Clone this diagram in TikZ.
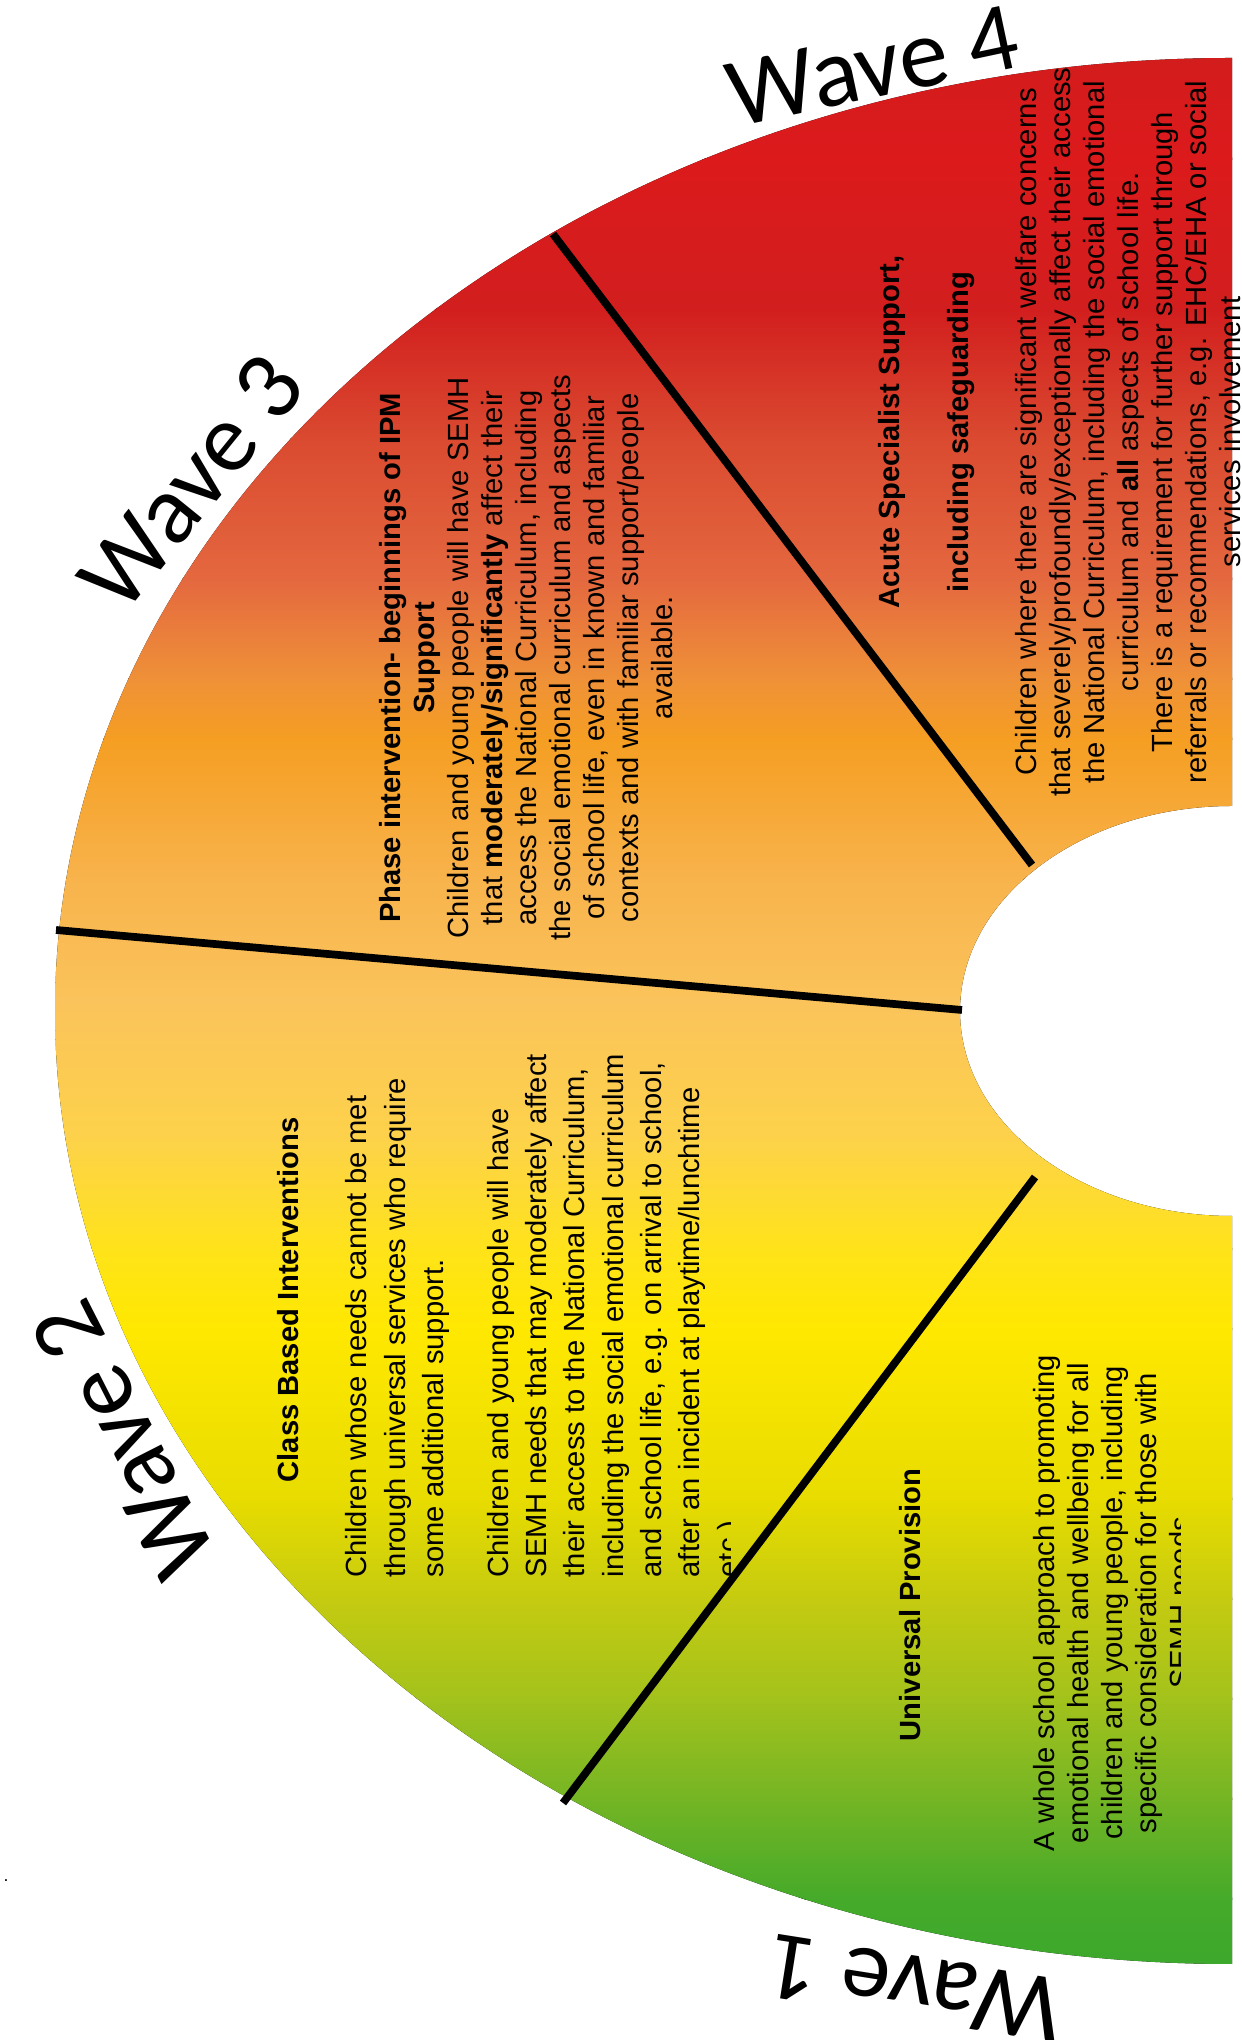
\documentclass[tikz,border=0pt]{standalone}
\usepackage{fontspec}
\setmainfont{Liberation Sans}
\newfontfamily\wavefont{Carlito}

% colours of the fan, from the bottom (green) to the top (red)
\definecolor{fan0}{HTML}{3BA82C}
\definecolor{fan1}{HTML}{45AA2A}
\definecolor{fan2}{HTML}{74B524}
\definecolor{fan3}{HTML}{A3C21C}
\definecolor{fan4}{HTML}{C5CB10}
\definecolor{fan5}{HTML}{E8DC00}
\definecolor{fan6}{HTML}{FFE800}
\definecolor{fan7}{HTML}{FFE31A}
\definecolor{fan8}{HTML}{FDD24A}
\definecolor{fan9}{HTML}{FBC35B}
\definecolor{fan10}{HTML}{F8B34C}
\definecolor{fan11}{HTML}{F59E22}
\definecolor{fan12}{HTML}{EF9138}
\definecolor{fan13}{HTML}{E4683F}
\definecolor{fan14}{HTML}{DA4A30}
\definecolor{fan15}{HTML}{D21E1E}
\definecolor{fan16}{HTML}{DC1A1C}
\definecolor{fan17}{HTML}{D21C1C}

\begin{document}
\begin{tikzpicture}[x=1cm,y=1cm,
    txt/.style={rotate=90, inner sep=0pt, align=center, font=\fontsize{8.3}{9.7}\selectfont},
    head/.style={txt, font=\bfseries\fontsize{8.3}{9.7}\selectfont},
    wave/.style={inner sep=0pt, font=\wavefont\fontsize{28}{30}\selectfont},
    divider/.style={line width=2.2pt}]
\useasboundingbox (0,0) rectangle (12.42,20.40);

% the half ring
\begin{scope}
\clip (12.32,19.82) arc[start angle=90, end angle=270, x radius=11.77, y radius=9.53]
    -- (12.32,8.24) arc[start angle=270, end angle=90, x radius=2.72, y radius=2.05] -- cycle;
\foreach \ylo/\yhi/\clo/\chi in {0.7/1.4/fan0/fan1, 1.4/2.4/fan1/fan2, 2.4/3.4/fan2/fan3,
    3.4/4.4/fan3/fan4, 4.4/5.4/fan4/fan5, 5.4/7.1/fan5/fan6, 7.1/7.9/fan6/fan7,
    7.9/9.0/fan7/fan8, 9.0/10.4/fan8/fan9, 10.4/11.6/fan9/fan10, 11.6/13.0/fan10/fan11,
    13.0/13.6/fan11/fan12, 13.6/14.6/fan12/fan13, 14.6/16.0/fan13/fan14,
    16.0/17.3/fan14/fan15, 17.3/18.8/fan15/fan16, 18.8/19.9/fan16/fan17}{
    \fill[bottom color=\clo, top color=\chi] (0,\ylo) rectangle (12.42,\yhi+0.02);
}
\end{scope}

% dividers between the waves
\coordinate (rim23) at (0.56,11.10);
\coordinate (hub23) at (9.62,10.30);
\coordinate (rim34) at (5.53,18.06);
\coordinate (hub34) at (10.32,11.75);
\coordinate (rim12) at (5.63,2.37);
\coordinate (hub12) at (10.35,8.63);
\draw[divider] (rim23) -- (hub23);
\draw[divider] (rim34) -- (hub34);
\draw[divider] (rim12) -- (hub12);

% wave 4
\node[txt] (acute) at (10.60,16.08) {\textbf{Acute Specialist Support,}\\[9.7pt]
    \textbf{including safeguarding}\\[9.7pt]
    Children where there are significant welfare concerns\\
    that severely/profoundly/exceptionally affect their access\\
    the National Curriculum, including the social emotional\\
    curriculum and \textbf{all} aspects of school life.\\
    There is a requirement for further support through\\
    referrals or recommendations, e.g. EHC/EHA or social\\
    services involvement};

% wave 3
\node[txt] (phase) at (5.26,13.82) {\textbf{Phase intervention- beginnings of IPM}\\
    \textbf{Support}\\
    Children and young people will have SEMH\\
    that \textbf{moderately/significantly} affect their\\
    access the National Curriculum, including\\
    the social emotional curriculum and aspects\\
    of school life, even in known and familiar\\
    contexts and with familiar support/people\\
    available.};

% wave 2
\node[head] (classhead) at (2.88,7.40) {Class Based Interventions};
\begin{scope}
\clip (0,0) rectangle (7.30,20.40);
\node[txt, align=left, anchor=west, font=\fontsize{8.3}{10.9}\selectfont] (classbody) at (5.45,4.62)
    {Children whose needs cannot be met\\
    through universal services who require\\
    some additional support.\\[7.5pt]
    Children and young people will have\\
    SEMH needs that may moderately affect\\
    their access to the National Curriculum,\\
    including the social emotional curriculum\\
    and school life, e.g. on arrival to school,\\
    after an incident at playtime/lunchtime\\
    etc.)};
\end{scope}

% wave 1
\node[head] (unihead) at (9.10,4.35) {Universal Provision};
\begin{scope}
\clip (0,0) rectangle (11.80,20.40);
\node[txt] (unibody) at (11.12,4.37) {A whole school approach to promoting\\
    emotional health and wellbeing for all\\
    children and young people, including\\
    specific consideration for those with\\
    SEMH needs};
\end{scope}

% wave labels round the rim
\node[wave, rotate=12] (wave4) at (8.73,19.74) {Wave 4};
\node[wave, rotate=51] (wave3) at (1.92,15.58) {Wave 3};
\node[wave, rotate=117] (wave2) at (1.24,6.00) {Wave 2};
\node[wave, rotate=171] (wave1) at (9.15,0.52) {Wave 1};
\node[inner sep=0pt, font=\tiny] (dot) at (0.06,1.59) {.};
\end{tikzpicture}
\end{document}
